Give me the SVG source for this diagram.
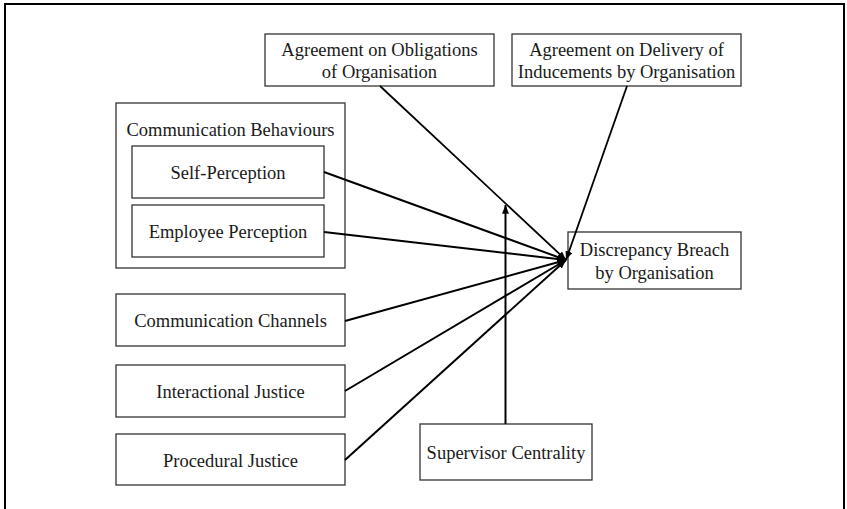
<svg xmlns="http://www.w3.org/2000/svg" width="847" height="509" viewBox="0 0 847 509">
  <style>
    .box { fill: #ffffff; stroke: #333333; stroke-width: 1.3; }
    .frame { fill: none; stroke: #000000; stroke-width: 2; }
    .lbl { font-family: "Liberation Serif", "Times New Roman", serif; font-size: 18.5px; fill: #1a1a1a; text-anchor: middle; }
    .edge { fill: none; stroke: #000000; stroke-width: 2; }
    .edge-thin { fill: none; stroke: #000000; stroke-width: 1.8; }
  </style>
  <defs>
    <marker id="arrow" viewBox="0 0 10 8" refX="10" refY="4" markerWidth="9" markerHeight="7" markerUnits="userSpaceOnUse" orient="auto">
      <path d="M0,0 L10,4 L0,8 z" fill="#000000"/>
    </marker>
  </defs>

  <rect width="847" height="509" fill="#ffffff"/>
  <!-- outer frame, open at the bottom -->
  <path class="frame" d="M5,509 V4 H844 V509"/>

  <g id="node-agreement-obligations">
    <rect class="box" x="265" y="34" width="229" height="52"/>
    <text class="lbl" x="379.5" y="56">Agreement on Obligations</text>
    <text class="lbl" x="379.5" y="78">of Organisation</text>
  </g>

  <g id="node-agreement-delivery">
    <rect class="box" x="512" y="34" width="229" height="52"/>
    <text class="lbl" x="626.5" y="56">Agreement on Delivery of</text>
    <text class="lbl" x="626.5" y="78">Inducements by Organisation</text>
  </g>

  <g id="node-communication-behaviours">
    <rect class="box" x="116" y="103" width="229" height="165"/>
    <text class="lbl" x="230.5" y="136">Communication Behaviours</text>
  </g>

  <g id="node-self-perception">
    <rect class="box" x="132" y="146" width="192" height="52"/>
    <text class="lbl" x="228" y="179">Self-Perception</text>
  </g>

  <g id="node-employee-perception">
    <rect class="box" x="132" y="205" width="192" height="52"/>
    <text class="lbl" x="228" y="238">Employee Perception</text>
  </g>

  <g id="node-communication-channels">
    <rect class="box" x="116" y="294" width="229" height="52"/>
    <text class="lbl" x="230.5" y="327">Communication Channels</text>
  </g>

  <g id="node-interactional-justice">
    <rect class="box" x="116" y="365" width="229" height="52"/>
    <text class="lbl" x="230.5" y="398">Interactional Justice</text>
  </g>

  <g id="node-procedural-justice">
    <rect class="box" x="116" y="434" width="229" height="51"/>
    <text class="lbl" x="230.5" y="467">Procedural Justice</text>
  </g>

  <g id="node-supervisor-centrality">
    <rect class="box" x="420" y="424" width="172" height="56"/>
    <text class="lbl" x="506" y="459">Supervisor Centrality</text>
  </g>

  <g id="node-discrepancy-breach">
    <rect class="box" x="568" y="232" width="173" height="57"/>
    <text class="lbl" x="654.5" y="256">Discrepancy Breach</text>
    <text class="lbl" x="654.5" y="279">by Organisation</text>
  </g>

  <g id="connectors">
    <line class="edge-thin" x1="380" y1="86" x2="566" y2="260" marker-end="url(#arrow)"/>
    <line class="edge-thin" x1="627" y1="86" x2="566" y2="260" marker-end="url(#arrow)"/>
    <line class="edge" x1="324" y1="172" x2="566" y2="260" marker-end="url(#arrow)"/>
    <line class="edge" x1="324" y1="232" x2="566" y2="260" marker-end="url(#arrow)"/>
    <line class="edge" x1="345" y1="321" x2="566" y2="260" marker-end="url(#arrow)"/>
    <line class="edge" x1="345" y1="391" x2="566" y2="260" marker-end="url(#arrow)"/>
    <line class="edge" x1="345" y1="460" x2="566" y2="260" marker-end="url(#arrow)"/>
    <line class="edge" x1="505.5" y1="424" x2="505.5" y2="205" marker-end="url(#arrow)"/>
  </g>
</svg>
